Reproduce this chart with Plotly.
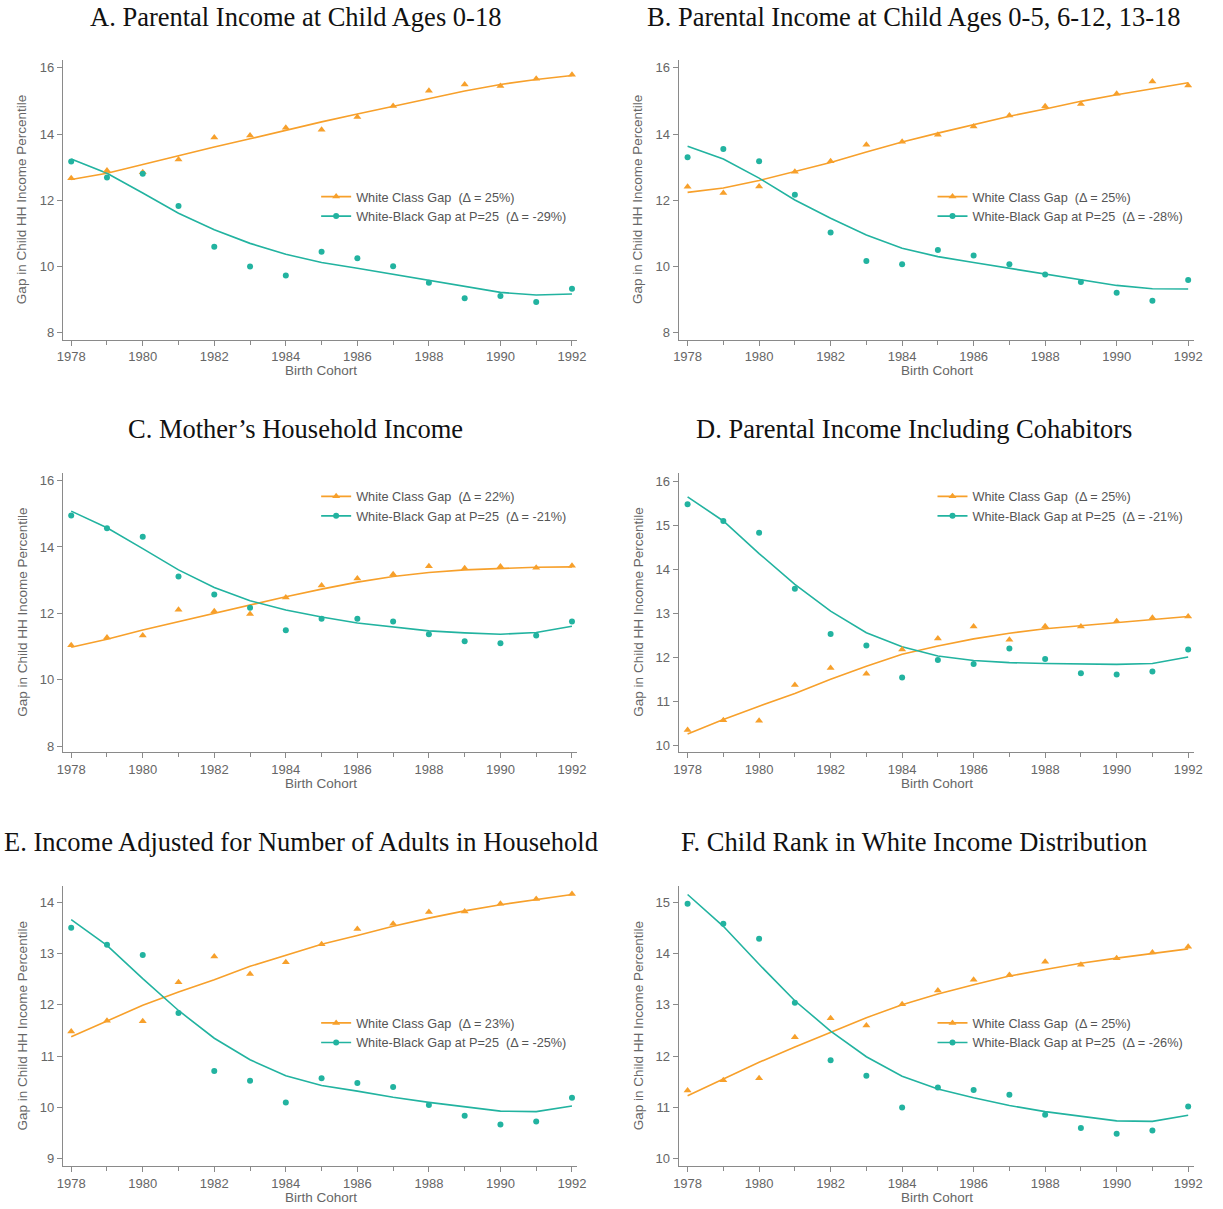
import plotly.graph_objects as go

years = list(range(1978, 1993))

titles = [
    "A. Parental Income at Child Ages 0-18",
    "B. Parental Income at Child Ages 0-5, 6-12, 13-18",
    "C. Mother\u2019s Household Income",
    "D. Parental Income Including Cohabitors",
    "E. Income Adjusted for Number of Adults in Household",
    "F. Child Rank in White Income Distribution",
]

class_delta = ["25%", "25%", "22%", "25%", "23%", "25%"]
bw_delta = ["-29%", "-28%", "-21%", "-21%", "-25%", "-26%"]

# Panel A
a_class_pts = [12.67, 12.90, 12.85, 13.23, 13.90, 13.96, 14.19, 14.13, 14.52, 14.85, 15.31, 15.50, 15.45, 15.67, 15.79]
a_class_fit = [12.63, 12.82, 13.08, 13.35, 13.61, 13.86, 14.12, 14.37, 14.61, 14.84, 15.08, 15.30, 15.50, 15.65, 15.77]
a_bw_pts = [13.17, 12.69, 12.80, 11.83, 10.60, 10.00, 9.73, 10.45, 10.25, 10.01, 9.51, 9.04, 9.11, 8.93, 9.33]
a_bw_fit = [13.25, 12.82, 12.22, 11.61, 11.11, 10.70, 10.37, 10.12, 9.95, 9.77, 9.59, 9.41, 9.22, 9.14, 9.17]

# Panel B
b_class_pts = [12.41, 12.22, 12.42, 12.86, 13.18, 13.68, 13.77, 13.98, 14.23, 14.56, 14.84, 14.91, 15.22, 15.59, 15.47]
b_class_fit = [12.24, 12.37, 12.60, 12.87, 13.14, 13.46, 13.76, 14.03, 14.28, 14.54, 14.76, 14.99, 15.19, 15.38, 15.55]
b_bw_pts = [13.30, 13.55, 13.18, 12.17, 11.03, 10.17, 10.07, 10.50, 10.33, 10.07, 9.76, 9.53, 9.21, 8.97, 9.59]
b_bw_fit = [13.63, 13.25, 12.67, 12.01, 11.46, 10.95, 10.55, 10.30, 10.12, 9.95, 9.76, 9.59, 9.43, 9.33, 9.32]

# Panel C
c_class_pts = [11.04, 11.27, 11.33, 12.11, 12.06, 11.98, 12.48, 12.84, 13.05, 13.18, 13.42, 13.36, 13.41, 13.37, 13.43]
c_class_fit = [10.98, 11.22, 11.50, 11.75, 12.01, 12.26, 12.50, 12.73, 12.94, 13.11, 13.23, 13.31, 13.36, 13.39, 13.40]
c_bw_pts = [14.95, 14.56, 14.31, 13.11, 12.57, 12.17, 11.49, 11.84, 11.84, 11.75, 11.37, 11.16, 11.10, 11.33, 11.75]
c_bw_fit = [15.08, 14.58, 13.95, 13.31, 12.78, 12.38, 12.10, 11.89, 11.71, 11.59, 11.47, 11.41, 11.37, 11.42, 11.61]

# Panel D
d_class_pts = [10.35, 10.57, 10.56, 11.37, 11.76, 11.63, 12.18, 12.43, 12.70, 12.40, 12.71, 12.70, 12.82, 12.90, 12.93]
d_class_fit = [10.26, 10.59, 10.89, 11.18, 11.50, 11.80, 12.07, 12.26, 12.42, 12.55, 12.65, 12.72, 12.80, 12.87, 12.93]
d_bw_pts = [15.48, 15.10, 14.83, 13.56, 12.53, 12.27, 11.54, 11.94, 11.85, 12.20, 11.96, 11.64, 11.61, 11.68, 12.18]
d_bw_fit = [15.65, 15.10, 14.36, 13.66, 13.05, 12.56, 12.24, 12.03, 11.93, 11.88, 11.86, 11.85, 11.84, 11.86, 12.01]

# Panel E
e_class_pts = [11.48, 11.69, 11.68, 12.44, 12.94, 12.60, 12.83, 13.18, 13.48, 13.58, 13.81, 13.82, 13.97, 14.06, 14.16]
e_class_fit = [11.38, 11.68, 11.99, 12.25, 12.49, 12.75, 12.97, 13.18, 13.35, 13.53, 13.69, 13.83, 13.95, 14.05, 14.15]
e_bw_pts = [13.50, 13.17, 12.97, 11.84, 10.71, 10.52, 10.10, 10.57, 10.48, 10.40, 10.05, 9.84, 9.67, 9.73, 10.19]
e_bw_fit = [13.66, 13.16, 12.51, 11.89, 11.35, 10.93, 10.62, 10.43, 10.32, 10.20, 10.10, 10.01, 9.93, 9.92, 10.03]

# Panel F
f_class_pts = [11.33, 11.53, 11.57, 12.37, 12.74, 12.60, 13.01, 13.28, 13.49, 13.58, 13.84, 13.78, 13.91, 14.02, 14.13]
f_class_fit = [11.23, 11.55, 11.88, 12.18, 12.46, 12.75, 13.00, 13.21, 13.39, 13.56, 13.69, 13.81, 13.91, 14.00, 14.09]
f_bw_pts = [14.97, 14.58, 14.29, 13.04, 11.92, 11.62, 11.00, 11.39, 11.34, 11.25, 10.86, 10.60, 10.49, 10.55, 11.02]
f_bw_fit = [15.15, 14.53, 13.79, 13.08, 12.49, 11.99, 11.61, 11.36, 11.19, 11.04, 10.92, 10.83, 10.74, 10.73, 10.85]

y_ticks = [
    [8, 10, 12, 14, 16],
    [8, 10, 12, 14, 16],
    [8, 10, 12, 14, 16],
    [10, 11, 12, 13, 14, 15, 16],
    [9, 10, 11, 12, 13, 14],
    [10, 11, 12, 13, 14, 15],
]

panels = [
    (a_class_pts, a_class_fit, a_bw_pts, a_bw_fit),
    (b_class_pts, b_class_fit, b_bw_pts, b_bw_fit),
    (c_class_pts, c_class_fit, c_bw_pts, c_bw_fit),
    (d_class_pts, d_class_fit, d_bw_pts, d_bw_fit),
    (e_class_pts, e_class_fit, e_bw_pts, e_bw_fit),
    (f_class_pts, f_class_fit, f_bw_pts, f_bw_fit),
]

# ---- layout geometry (pixels) ----
W, H = 1223, 1209
ORANGE = "#F7A02B"
TEAL = "#22B3A0"
GRAY = "#666666"
AXC = "#8a8a8a"
SANS = "Liberation Sans, Arial, sans-serif"
SERIF = "Liberation Serif, Times New Roman, serif"

col_px = [(57.5, 578.0), (681.0, 1203.0)]
row_px = [(60.0, 340.0), (473.0, 753.0), (887.0, 1167.0)]
x_ranges = [(1977.765, 1992.138), (1977.75, 1992.17)]
y_ranges = [
    (7.79, 16.24),
    (7.79, 16.24),
    (7.81, 16.24),
    (9.84, 16.20),
    (8.86, 14.31),
    (9.86, 15.31),
]
title_cx = [293, 919, 293, 919, 299, 919]
title_y = [17, 429, 843]
legend_pos = [(314, 182), (938, 182), (314, 482), (938, 482), (314, 1009), (938, 1009)]

fig = go.Figure()
layout = dict(
    width=W, height=H,
    margin=dict(l=0, r=0, t=0, b=0),
    paper_bgcolor="white", plot_bgcolor="white",
    font=dict(family=SANS, size=12, color=GRAY),
    showlegend=True,
)
annotations = []

for i, (cp, cf, bp, bf) in enumerate(panels):
    r, c = divmod(i, 2)
    n = i + 1
    xa = "x" if n == 1 else f"x{n}"
    ya = "y" if n == 1 else f"y{n}"
    lg = "legend" if n == 1 else f"legend{n}"
    x0, x1 = col_px[c]
    y0, y1 = row_px[r]

    # legend-only entries (line + marker symbol)
    fig.add_trace(go.Scatter(
        x=[None], y=[None], mode="lines+markers",
        name="White Class Gap\u00a0\u00a0(\u0394 = " + class_delta[i] + ")",
        line=dict(color=ORANGE, width=1.6),
        marker=dict(symbol="triangle-up", size=7, color=ORANGE),
        xaxis=xa, yaxis=ya, legend=lg, showlegend=True))
    fig.add_trace(go.Scatter(
        x=[None], y=[None], mode="lines+markers",
        name="White-Black Gap at P=25\u00a0\u00a0(\u0394 = " + bw_delta[i] + ")",
        line=dict(color=TEAL, width=1.6),
        marker=dict(symbol="circle", size=6, color=TEAL),
        xaxis=xa, yaxis=ya, legend=lg, showlegend=True))

    fig.add_trace(go.Scatter(x=years, y=cf, mode="lines",
                             line=dict(color=ORANGE, width=1.6),
                             xaxis=xa, yaxis=ya, showlegend=False))
    fig.add_trace(go.Scatter(x=years, y=bf, mode="lines",
                             line=dict(color=TEAL, width=1.6),
                             xaxis=xa, yaxis=ya, showlegend=False))
    fig.add_trace(go.Scatter(x=years, y=cp, mode="markers",
                             marker=dict(symbol="triangle-up", size=7, color=ORANGE),
                             xaxis=xa, yaxis=ya, showlegend=False))
    fig.add_trace(go.Scatter(x=years, y=bp, mode="markers",
                             marker=dict(symbol="circle", size=6, color=TEAL),
                             xaxis=xa, yaxis=ya, showlegend=False))

    xkey = "xaxis" if n == 1 else f"xaxis{n}"
    ykey = "yaxis" if n == 1 else f"yaxis{n}"
    layout[xkey] = dict(
        domain=[x0 / W, x1 / W], anchor=ya, range=list(x_ranges[c]),
        tickmode="linear", tick0=1978, dtick=2,
        ticks="outside", ticklen=5, tickcolor=AXC, tickwidth=1,
        minor=dict(dtick=1, tick0=1978, ticks="outside", ticklen=4, tickcolor=AXC, showgrid=False),
        showline=True, linecolor=AXC, linewidth=1,
        showgrid=False, zeroline=False,
        tickfont=dict(family=SANS, size=13, color=GRAY),
    )
    layout[ykey] = dict(
        domain=[1 - y1 / H, 1 - y0 / H], anchor=xa, range=list(y_ranges[i]),
        tickmode="array", tickvals=y_ticks[i],
        ticks="outside", ticklen=5, tickcolor=AXC, tickwidth=1,
        showline=True, linecolor=AXC, linewidth=1,
        showgrid=False, zeroline=False,
        tickfont=dict(family=SANS, size=13, color=GRAY),
    )
    lx, ly = legend_pos[i]
    layout[lg] = dict(
        x=lx / W, y=1 - ly / H, xanchor="left", yanchor="top",
        bgcolor="rgba(0,0,0,0)", borderwidth=0,
        font=dict(family=SANS, size=12.7, color="#555555"),
        tracegroupgap=0, itemwidth=30,
    )

    # panel title
    annotations.append(dict(
        text=titles[i], x=title_cx[i] / W, y=1 - title_y[r] / H,
        xref="paper", yref="paper", xanchor="center", yanchor="middle",
        showarrow=False, font=dict(family=SERIF, size=26.5, color="#111111")))
    # x-axis title
    annotations.append(dict(
        text="Birth Cohort", x=((x0 + x1) / 2 + 1) / W, y=1 - (y1 + 31) / H,
        xref="paper", yref="paper", xanchor="center", yanchor="middle",
        showarrow=False, font=dict(family=SANS, size=13.5, color=GRAY)))
    # y-axis title
    annotations.append(dict(
        text="Gap in Child HH Income Percentile", x=(x0 - 41) / W, y=1 - ((y0 + y1) / 2) / H,
        xref="paper", yref="paper", xanchor="center", yanchor="middle", textangle=-90,
        showarrow=False, font=dict(family=SANS, size=13.5, color=GRAY)))

layout["annotations"] = annotations
fig.update_layout(**layout)

fig.write_html("out.html", config={"displayModeBar": False},
               post_script="document.body.style.margin='0';document.body.style.overflow='hidden';")
